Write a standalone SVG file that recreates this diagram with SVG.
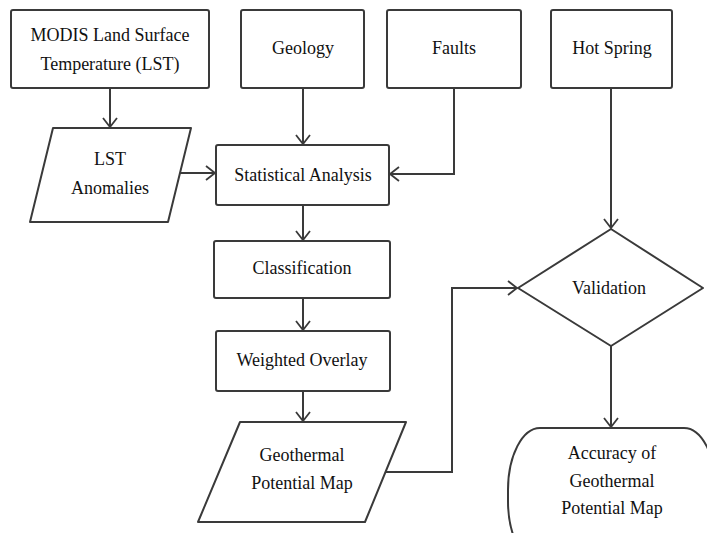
<svg xmlns="http://www.w3.org/2000/svg" width="707" height="533" viewBox="0 0 707 533">
<style>
.shape{fill:#fff;stroke:#3a3a3a;stroke-width:2;stroke-linejoin:round}
.lbl{font-family:"Liberation Serif","Times New Roman",serif;font-size:18px;fill:#111;text-anchor:middle}
.conn{fill:none;stroke:#3a3a3a;stroke-width:2}
</style>
<defs>
<marker id="arr" markerUnits="userSpaceOnUse" viewBox="0 0 9 14" refX="9" refY="7" markerWidth="9" markerHeight="14" orient="auto" overflow="visible">
<path d="M0,0 L9,7 L0,14" fill="none" stroke="#3a3a3a" stroke-width="1.8"/>
</marker>
</defs>
<rect width="707" height="533" fill="#fff"/>
<g id="modis"><rect class="shape" x="11" y="10" width="198" height="78" rx="2"/><text class="lbl" x="110" y="41">MODIS Land Surface</text><text class="lbl" x="110" y="70">Temperature (LST)</text></g>
<g id="geology"><rect class="shape" x="241" y="10" width="123" height="78" rx="2"/><text class="lbl" x="303" y="54">Geology</text></g>
<g id="faults"><rect class="shape" x="387" y="10" width="134" height="78" rx="2"/><text class="lbl" x="454" y="54">Faults</text></g>
<g id="hotspring"><rect class="shape" x="551" y="10" width="121" height="78" rx="2"/><text class="lbl" x="612" y="54">Hot Spring</text></g>
<g id="lst"><polygon class="shape" points="53,128 191,128 168,222 30,222"/><text class="lbl" x="110" y="165">LST</text><text class="lbl" x="110" y="194">Anomalies</text></g>
<g id="stat"><rect class="shape" x="216" y="145" width="173" height="60" rx="2"/><text class="lbl" x="303" y="181">Statistical Analysis</text></g>
<g id="class"><rect class="shape" x="214" y="241" width="176" height="57" rx="2"/><text class="lbl" x="302" y="274">Classification</text></g>
<g id="overlay"><rect class="shape" x="216" y="331" width="174" height="60" rx="2"/><text class="lbl" x="302" y="366">Weighted Overlay</text></g>
<g id="geomap"><polygon class="shape" points="240,422 406,422 365,522 198,522"/><text class="lbl" x="302" y="461">Geothermal</text><text class="lbl" x="302" y="489">Potential Map</text></g>
<g id="validation"><polygon class="shape" points="611,229 703,288 611,346 518,288"/><text class="lbl" x="609" y="294">Validation</text></g>
<g id="accuracy"><rect class="shape" x="508" y="428" width="208" height="135" rx="32" ry="62"/><text class="lbl" x="612" y="459">Accuracy of</text><text class="lbl" x="612" y="487">Geothermal</text><text class="lbl" x="612" y="514">Potential Map</text></g>
<g id="connectors">
<path class="conn" d="M110,88 V127" marker-end="url(#arr)"/>
<path class="conn" d="M303,88 V144" marker-end="url(#arr)"/>
<path class="conn" d="M180,173 H215" marker-end="url(#arr)"/>
<path class="conn" d="M454,88 V174 H390" marker-end="url(#arr)"/>
<path class="conn" d="M303,205 V240" marker-end="url(#arr)"/>
<path class="conn" d="M303,298 V330" marker-end="url(#arr)"/>
<path class="conn" d="M303,391 V421" marker-end="url(#arr)"/>
<path class="conn" d="M386,472 H452 V288 H517" marker-end="url(#arr)"/>
<path class="conn" d="M611,88 V228" marker-end="url(#arr)"/>
<path class="conn" d="M611,346 V427" marker-end="url(#arr)"/>
</g>
</svg>
